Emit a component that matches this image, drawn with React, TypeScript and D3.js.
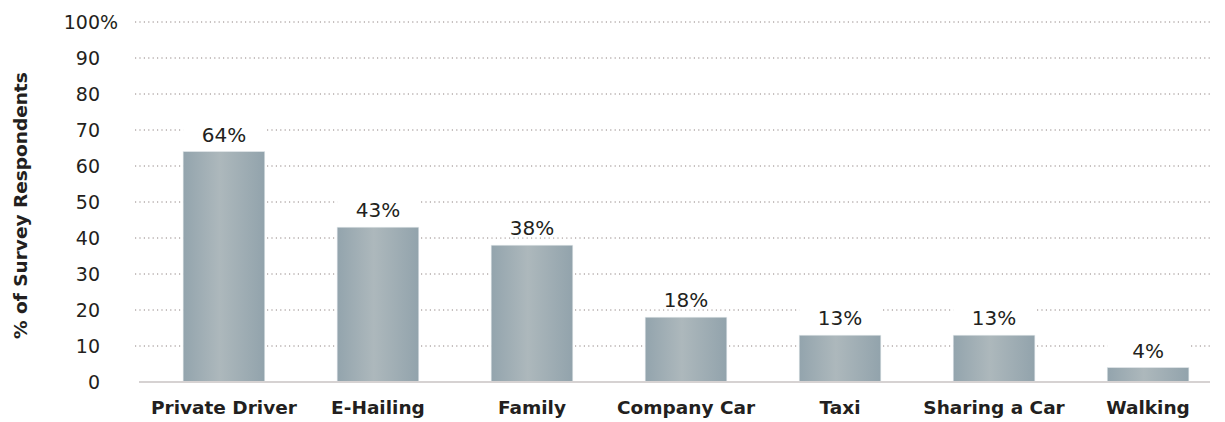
import { useMemo } from "react";
import * as d3 from "d3";

const categories = ["Private Driver", "E-Hailing", "Family", "Company Car", "Taxi", "Sharing a Car", "Walking"];
const values = [64, 43, 38, 18, 13, 13, 4];
const yTicks = [0, 10, 20, 30, 40, 50, 60, 70, 80, 90, 100];

const W = 1225;
const H = 422;
const FONT = "'DejaVu Sans', 'Open Sans', sans-serif";

export default function App() {
  const x = useMemo(
    () => d3.scaleBand<string>().domain(categories).range([140, 1232]).paddingInner(0.47).paddingOuter(0.28),
    []
  );
  const y = useMemo(() => d3.scaleLinear().domain([0, 100]).range([382, 22]), []);
  const bw = x.bandwidth();

  return (
    <svg width={W} height={H} style={{ position: "absolute", left: 0, top: 0, background: "#fff" }}>
      <defs>
        <linearGradient id="barGrad" x1="0" x2="1" y1="0" y2="0">
          <stop offset="0%" stopColor="#93a4ad" />
          <stop offset="45%" stopColor="#adb8bc" />
          <stop offset="100%" stopColor="#92a3ac" />
        </linearGradient>
      </defs>

      {/* grid lines */}
      {yTicks.slice(1).map((t) => (
        <line
          key={t}
          x1={135}
          x2={1210}
          y1={y(t)}
          y2={y(t)}
          stroke="#8e8280"
          strokeWidth={1}
          strokeDasharray="1.2 3.2"
        />
      ))}

      {/* tick labels */}
      {yTicks.map((t) => (
        <text key={t} x={100} y={y(t)} dy="0.36em" textAnchor="end" fontFamily={FONT} fontSize={19} fill="#231f20">
          {t}
        </text>
      ))}
      <text x={100} y={y(100)} dy="0.36em" fontFamily={FONT} fontSize={19} fill="#231f20">
        %
      </text>

      {/* axis title */}
      <text
        transform={`translate(27,${y(49)}) rotate(-90)`}
        textAnchor="middle"
        fontFamily={FONT}
        fontWeight="bold"
        fontSize={18.5}
        fill="#231f20"
      >
        % of Survey Respondents
      </text>

      {/* bars */}
      {categories.map((c, i) => (
        <g key={c}>
          <rect x={x(c)} y={y(values[i]) - 32} width={bw} height={24} fill="#fff" />
          <rect
            x={x(c)}
            y={y(values[i])}
            width={bw}
            height={y(0) - y(values[i])}
            fill="url(#barGrad)"
            stroke="#dfe5e8"
            strokeWidth={0.6}
          />
          <text
            x={(x(c) ?? 0) + bw / 2}
            y={y(values[i]) - 10}
            textAnchor="middle"
            fontFamily={FONT}
            fontSize={20}
            fill="#231f20"
          >
            {values[i]}%
          </text>
          <text
            x={(x(c) ?? 0) + bw / 2}
            y={y(0) + 32}
            textAnchor="middle"
            fontFamily={FONT}
            fontWeight="bold"
            fontSize={18.5}
            fill="#231f20"
          >
            {c}
          </text>
        </g>
      ))}

      {/* baseline */}
      <line x1={139} x2={1210} y1={y(0)} y2={y(0)} stroke="#d6d2d2" strokeWidth={2} />
    </svg>
  );
}
